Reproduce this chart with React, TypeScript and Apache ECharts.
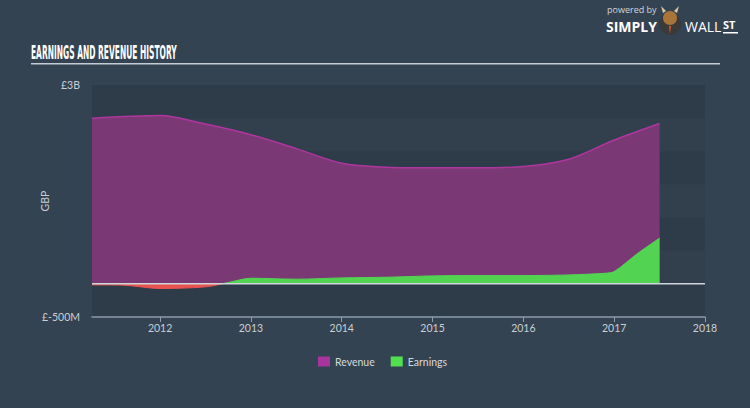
import React, { useEffect, useRef } from "react";
import * as echarts from "echarts";

const revenueYears = [2011.25, 2012.0, 2012.5, 2013.0, 2013.5, 2014.0, 2014.5, 2015.0, 2015.5, 2016.0, 2016.5, 2017.0, 2017.5];
const revenueValues = [2.5, 2.54, 2.41, 2.25, 2.04, 1.82, 1.76, 1.75, 1.75, 1.77, 1.88, 2.17, 2.42];

const earningsYears = [2011.25, 2011.6, 2012.0, 2012.5, 2012.75, 2013.0, 2013.5, 2014.0, 2014.5, 2015.0, 2015.5, 2016.0, 2016.5, 2016.9, 2017.0, 2017.25, 2017.5];
const earningsValues = [-0.015, -0.02, -0.07, -0.045, 0.02, 0.085, 0.07, 0.09, 0.1, 0.12, 0.125, 0.125, 0.135, 0.16, 0.185, 0.45, 0.69];

const xTicks = [2012, 2013, 2014, 2015, 2016, 2017, 2018];
const xMin = 2011.25;
const xMax = 2018;
const yMin = -0.5;
const yMax = 3;

const FONT = "Lato, 'Open Sans', sans-serif";
const GREEN = "#52d452";
const RED = "#e8524f";
const TITLE = "EARNINGS AND REVENUE HISTORY";
const TITLE_FONT = "bold 19px 'DejaVu Sans Condensed', 'Liberation Sans', sans-serif";

function measure(text: string, font: string): number {
  const c = document.createElement("canvas").getContext("2d");
  if (!c) return 250;
  c.font = font;
  return c.measureText(text).width;
}

export default function App() {
  const ref = useRef<HTMLDivElement>(null);
  useEffect(() => {
    if (!ref.current) return;
    const chart = echarts.init(ref.current, null, { renderer: "svg" });
    const revData = revenueYears.map((y, i) => [y, revenueValues[i]]);
    const earnData = earningsYears.map((y, i) => [y, earningsValues[i]]);
    const titleScale = 146 / measure(TITLE, TITLE_FONT);
    chart.setOption({
      animation: false,
      backgroundColor: "#344351",
      textStyle: { fontFamily: FONT },
      grid: { left: 92, right: 45, top: 85, bottom: 91, containLabel: false },
      legend: {
        left: 313,
        top: 351,
        itemWidth: 12,
        itemHeight: 10,
        itemGap: 16,
        icon: "rect",
        textStyle: { color: "#d4d9de", fontSize: 10.5, fontFamily: FONT },
        data: ["Revenue", "Earnings"],
      },
      xAxis: {
        type: "value",
        min: xMin,
        max: xMax,
        axisLine: { show: true, onZero: false, lineStyle: { color: "#8d9bab", width: 1.5 } },
        axisTick: { show: true, length: 5, lineStyle: { color: "#8d9bab" }, customValues: xTicks },
        axisLabel: {
          color: "#c8cfd6",
          fontSize: 10.5,
          margin: 5,
          customValues: xTicks,
          formatter: (v: number) => (Number.isInteger(v) ? String(v) : ""),
        },
        splitLine: { show: false },
      },
      yAxis: {
        type: "value",
        min: yMin,
        max: yMax,
        interval: 0.5,
        name: "GBP",
        nameLocation: "middle",
        nameGap: 42,
        nameMoveOverlap: false,
        nameTextStyle: { color: "#c8cfd6", fontSize: 10.5 },
        axisLine: { show: false },
        axisTick: { show: false },
        axisLabel: {
          color: "#c8cfd6",
          fontSize: 10.5,
          margin: 12,
          formatter: (v: number) => (v === yMax ? "£3B" : v === yMin ? "£-500M" : ""),
        },
        splitLine: { show: false },
        splitArea: { show: true, areaStyle: { color: ["#2e3c4a", "#323f4d"] } },
      },
      series: [
        {
          name: "Revenue",
          type: "line",
          data: revData,
          smooth: 0.3,
          symbol: "none",
          color: "#a8359e",
          lineStyle: { color: "#b0369f", width: 1.5 },
          areaStyle: { color: "#7a3874", opacity: 1 },
        },
        {
          name: "Earnings",
          type: "line",
          data: earnData,
          smooth: 0.3,
          symbol: "none",
          color: "#52e052",
          lineStyle: { width: 1, color: GREEN },
          areaStyle: { opacity: 1, color: GREEN },
        },
        {
          name: "zero",
          type: "line",
          data: [[xMin, 0], [xMax, 0]],
          symbol: "none",
          silent: true,
          z: 5,
          lineStyle: { color: "#cfd5db", width: 1.5 },
        },
      ],
      graphic: [
        {
          type: "text",
          x: 31,
          y: 42,
          scaleX: titleScale,
          style: { text: TITLE, fill: "#ffffff", font: TITLE_FONT },
        },
        { type: "rect", shape: { x: 31, y: 63, width: 689, height: 1.5 }, style: { fill: "#c5ccd4" } },
        {
          type: "text",
          x: 607,
          y: 5,
          style: { text: "powered by", fill: "#d0d5da", font: "9px 'Open Sans', sans-serif" },
        },
        {
          type: "text",
          x: 606,
          y: 19,
          style: { text: "SIMPLY", fill: "#ffffff", font: "bold 14px 'Open Sans', sans-serif" },
        },
        { type: "circle", shape: { cx: 670, cy: 24, r: 11 }, style: { fill: "#3a3a3a" } },
        { type: "ellipse", shape: { cx: 670, cy: 18, rx: 7, ry: 7 }, style: { fill: "#a8743a" } },
        { type: "polygon", shape: { points: [[663, 13], [661, 6], [666, 11]] }, style: { fill: "#d8c8a8" } },
        { type: "polygon", shape: { points: [[677, 13], [679, 6], [674, 11]] }, style: { fill: "#d8c8a8" } },
        { type: "polygon", shape: { points: [[669, 26], [671, 26], [670, 34]] }, style: { fill: "#e05a20" } },
        {
          type: "text",
          x: 685,
          y: 19,
          style: { text: "WALL", fill: "#ffffff", font: "14px 'Open Sans', sans-serif" },
        },
        {
          type: "text",
          x: 723,
          y: 19,
          style: { text: "ST", fill: "#ffffff", font: "bold 11px 'Open Sans', sans-serif" },
        },
        { type: "rect", shape: { x: 723, y: 32, width: 15, height: 1.5 }, style: { fill: "#ffffff" } },
      ],
    });
    // colour earnings red below zero, green above, using the axis scale
    const zeroY = chart.convertToPixel({ yAxisIndex: 0 }, 0) as number;
    const grad = new echarts.graphic.LinearGradient(
      0, zeroY - 1, 0, zeroY + 1,
      [
        { offset: 0, color: GREEN },
        { offset: 0.5, color: GREEN },
        { offset: 0.5, color: RED },
        { offset: 1, color: RED },
      ],
      true
    );
    chart.setOption({
      series: [{}, { lineStyle: { color: grad }, areaStyle: { color: grad } }],
    });
    return () => chart.dispose();
  }, []);
  return <div ref={ref} style={{ width: 750, height: 408, position: "absolute", left: 0, top: 0 }} />;
}
